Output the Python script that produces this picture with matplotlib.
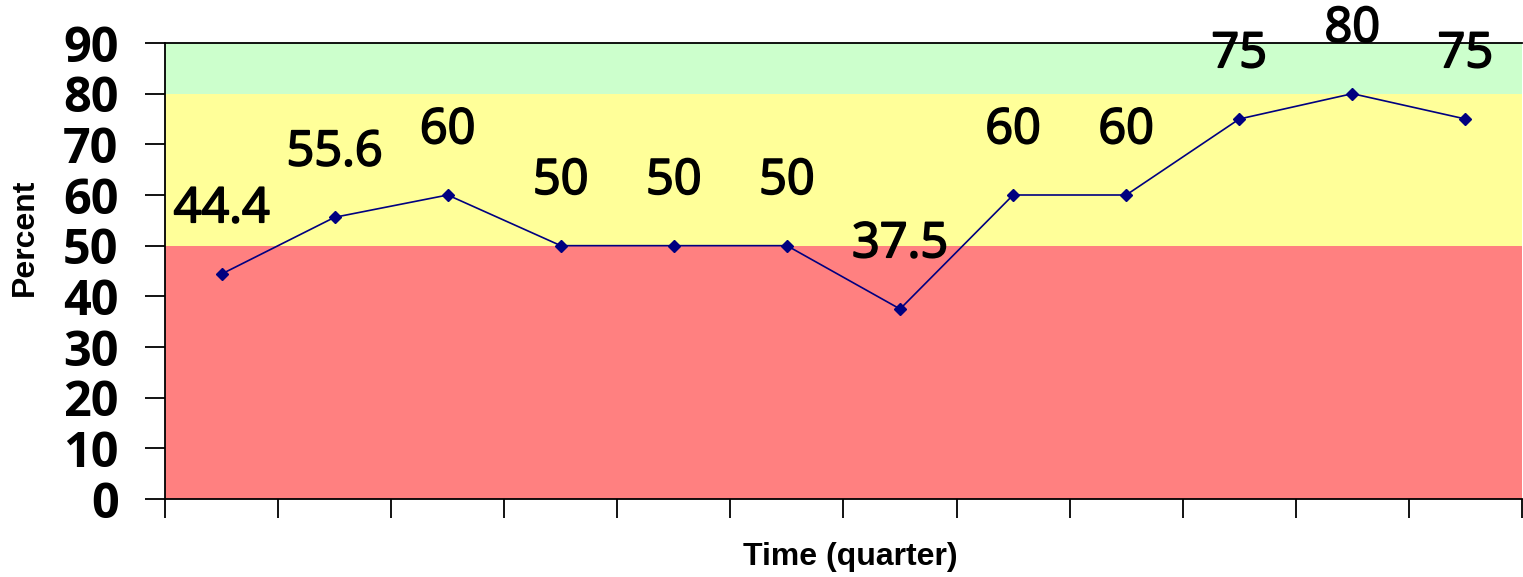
import matplotlib
matplotlib.use("Agg")
import matplotlib.pyplot as plt
import matplotlib.patheffects as pe

# Data
quarters = list(range(12))
values = [44.4, 55.6, 60, 50, 50, 50, 37.5, 60, 60, 75, 80, 75]
labels = ["44.4", "55.6", "60", "50", "50", "50", "37.5", "60", "60", "75", "80", "75"]
bands = [(0, 50, "#FF8080"), (50, 80, "#FFFF99"), (80, 90, "#CCFFCC")]
yticks = [0, 10, 20, 30, 40, 50, 60, 70, 80, 90]

W, H = 1523, 577
fig = plt.figure(figsize=(W / 100, H / 100), dpi=100)
ax = fig.add_axes([165 / W, 1 - 499 / H, (1522 - 165) / W, (499 - 43) / H])

for lo, hi, c in bands:
    ax.axhspan(lo, hi, color=c, zorder=0, lw=0)

ax.plot(quarters, values, color="#000080", lw=1.2, marker="D", ms=6.5,
        markerfacecolor="#000080", markeredgecolor="#000080", zorder=3)

for x, v, t in zip(quarters, values, labels):
    ax.annotate(t, (x, v), xytext=(0, 46.5), textcoords="offset points",
                ha="center", va="center", fontsize=35, family="Open Sans",
                fontweight="normal", color="black", zorder=4,
                annotation_clip=False,
                path_effects=[pe.withStroke(linewidth=1.3, foreground="black")])

ax.set_xlim(-0.5, 11.5)
ax.set_ylim(0, 90)
ax.set_xticks([i - 0.5 for i in range(13)])
ax.set_xticklabels([])
ax.set_yticks(yticks)
ax.set_yticklabels([str(v) for v in yticks], family="Open Sans",
                   fontweight="bold", fontsize=35)
ax.tick_params(axis="y", length=14.4, width=1.3, pad=19, direction="out")
ax.tick_params(axis="x", length=13.5, width=1.3, direction="out")

for s in ["top", "left", "bottom"]:
    ax.spines[s].set_linewidth(1.3)
    ax.spines[s].set_color("black")
ax.spines["right"].set_visible(False)

fig.text(25 / W, 1 - 237 / H, "Percent", rotation=90, ha="center", va="center",
         family="Liberation Sans", fontweight="bold", fontsize=23)
fig.text(850 / W, 1 - 557 / H, "Time (quarter)", ha="center", va="center",
         family="Liberation Sans", fontweight="bold", fontsize=23)

fig.savefig("out.png", dpi=100)
